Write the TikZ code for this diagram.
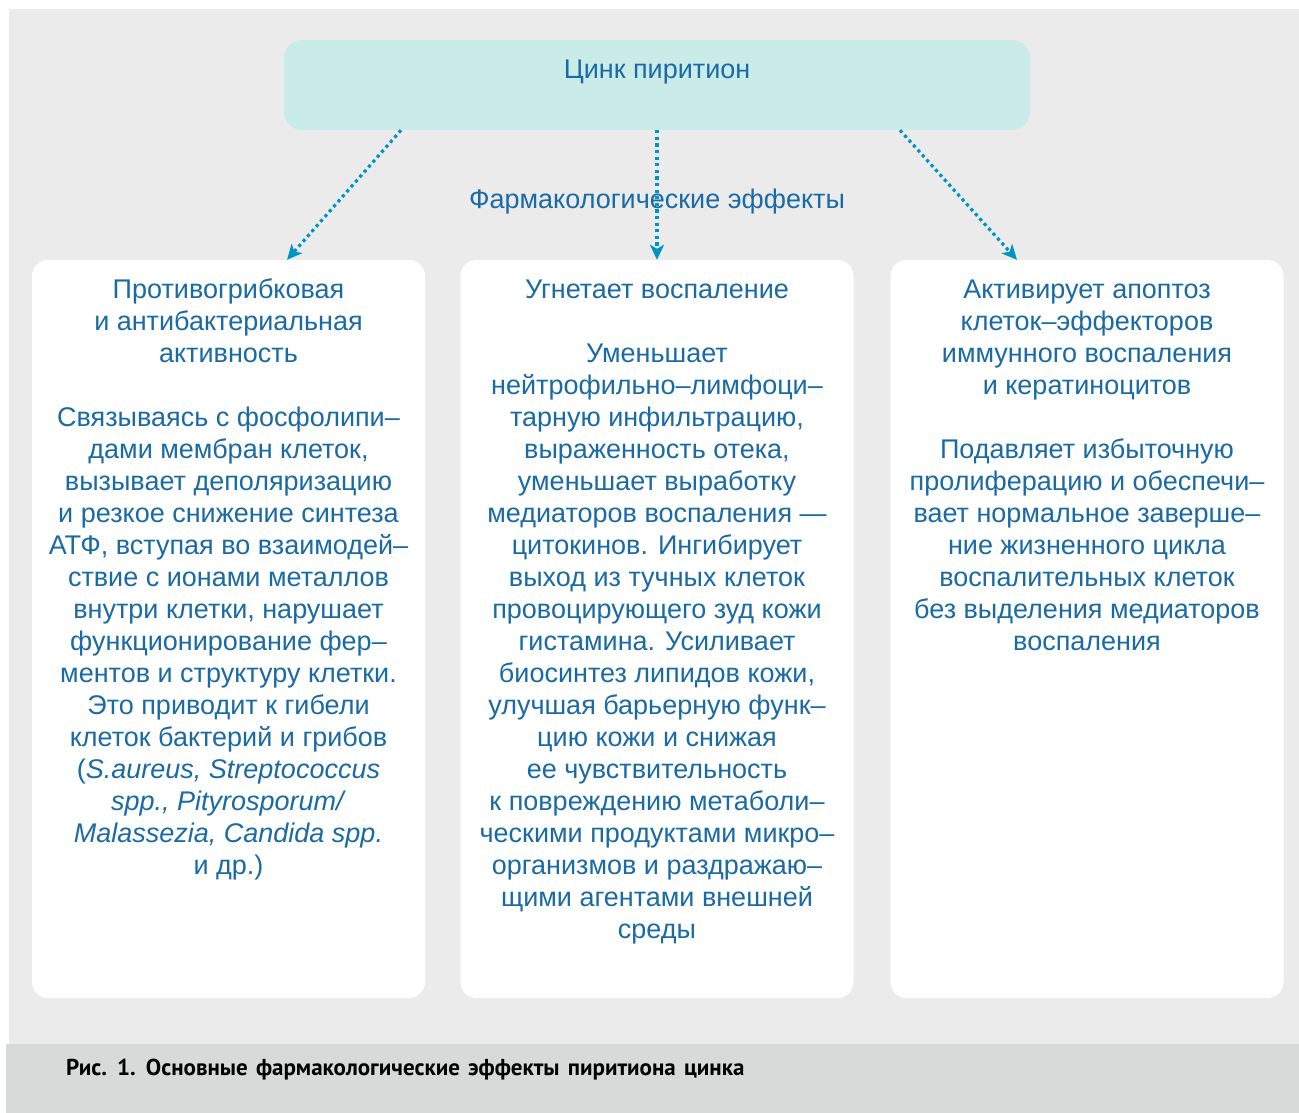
\documentclass[tikz,border=0pt]{standalone}
\usepackage{fontspec}
\setmainfont{Liberation Sans}
\newfontfamily\capfont{PT Sans}
\usetikzlibrary{arrows.meta,calc}
\definecolor{bggray}{RGB}{235,235,235}
\definecolor{bandgray}{RGB}{216,218,218}
\definecolor{topfill}{RGB}{201,236,233}
\definecolor{txtblue}{RGB}{26,106,165}
\definecolor{arrblue}{RGB}{0,148,196}
\tikzset{
  topbox/.style={fill=topfill, rounded corners=18pt, inner sep=0pt},
  colbox/.style={fill=white, rounded corners=16pt, inner sep=0pt, minimum width=393pt, minimum height=738pt},
  coltext/.style={font=\fontsize{27}{32}\selectfont, align=center, text=txtblue, inner sep=0pt, anchor=north},
  plaintext/.style={font=\fontsize{27}{32}\selectfont, text=txtblue, inner sep=0pt, anchor=base},
  arr/.style={draw=arrblue, line width=3.2pt, dash pattern=on 3.2pt off 3.4pt, -{Stealth[length=15pt,width=14pt,inset=4pt]}},
}
\begin{document}
\begin{tikzpicture}[x=1pt,y=-1pt]
\useasboundingbox (0,0) rectangle (1299,1113);
\fill[white] (0,0) rectangle (1299,1113);
\fill[bggray] (9,9) rectangle (1299,1044);
\fill[bandgray] (6,1044) rectangle (1299,1113);

\node[topbox, minimum width=746pt, minimum height=90pt] (top) at (657,85) {};
\node[plaintext] (toptext) at (657,79) {Цинк пиритион};

\node[colbox] (b1) at (228.5,629) {};
\node[colbox] (b2) at (657,629) {};
\node[colbox] (b3) at (1087,629) {};

\draw[arr] ([xshift=-256pt]top.south) -- ([xshift=58.5pt]b1.north);
\draw[arr] (top.south) -- (b2.north);
\draw[arr] ([xshift=243pt]top.south) -- ([xshift=-70pt]b3.north);

\node[plaintext] (effects) at (657,208) {Фармакологические эффекты};

\node[coltext] (t1) at ($(b1.north)+(0,14)$) {\rule{0pt}{24pt}Противогрибковая\\
и антибактериальная\\
активность\\[32pt]
Связываясь с фосфолипи–\\
дами мембран клеток,\\
вызывает деполяризацию\\
и резкое снижение синтеза\\
АТФ, вступая во взаимодей–\\
ствие с ионами металлов\\
внутри клетки, нарушает\\
функционирование фер–\\
ментов и структуру клетки.\\
Это приводит к гибели\\
клеток бактерий и грибов\\
(\textit{S.aureus, Streptococcus}\\
\textit{spp., Pityrosporum/}\\
\textit{Malassezia, Candida spp.}\\
и др.)};

\node[coltext] (t2) at ($(b2.north)+(0,14)$) {\rule{0pt}{24pt}Угнетает воспаление\\[32pt]
Уменьшает\\
нейтрофильно–лимфоци–\\
тарную инфильтрацию,\\
выраженность отека,\\
уменьшает выработку\\
медиаторов воспаления —\\
цитокинов. Ингибирует\\
выход из тучных клеток\\
провоцирующего зуд кожи\\
гистамина. Усиливает\\
биосинтез липидов кожи,\\
улучшая барьерную функ–\\
цию кожи и снижая\\
ее чувствительность\\
к повреждению метаболи–\\
ческими продуктами микро–\\
организмов и раздражаю–\\
щими агентами внешней\\
среды};

\node[coltext] (t3) at ($(b3.north)+(0,14)$) {\rule{0pt}{24pt}Активирует апоптоз\\
клеток–эффекторов\\
иммунного воспаления\\
и кератиноцитов\\[32pt]
Подавляет избыточную\\
пролиферацию и обеспечи–\\
вает нормальное заверше–\\
ние жизненного цикла\\
воспалительных клеток\\
без выделения медиаторов\\
воспаления};

\node[anchor=base west, inner sep=0pt, font=\capfont\bfseries\fontsize{23}{27}\selectfont] (caption) at (66,1075) {\spaceskip=8.2pt Рис. 1. Основные фармакологические эффекты пиритиона цинка};
\end{tikzpicture}
\end{document}
